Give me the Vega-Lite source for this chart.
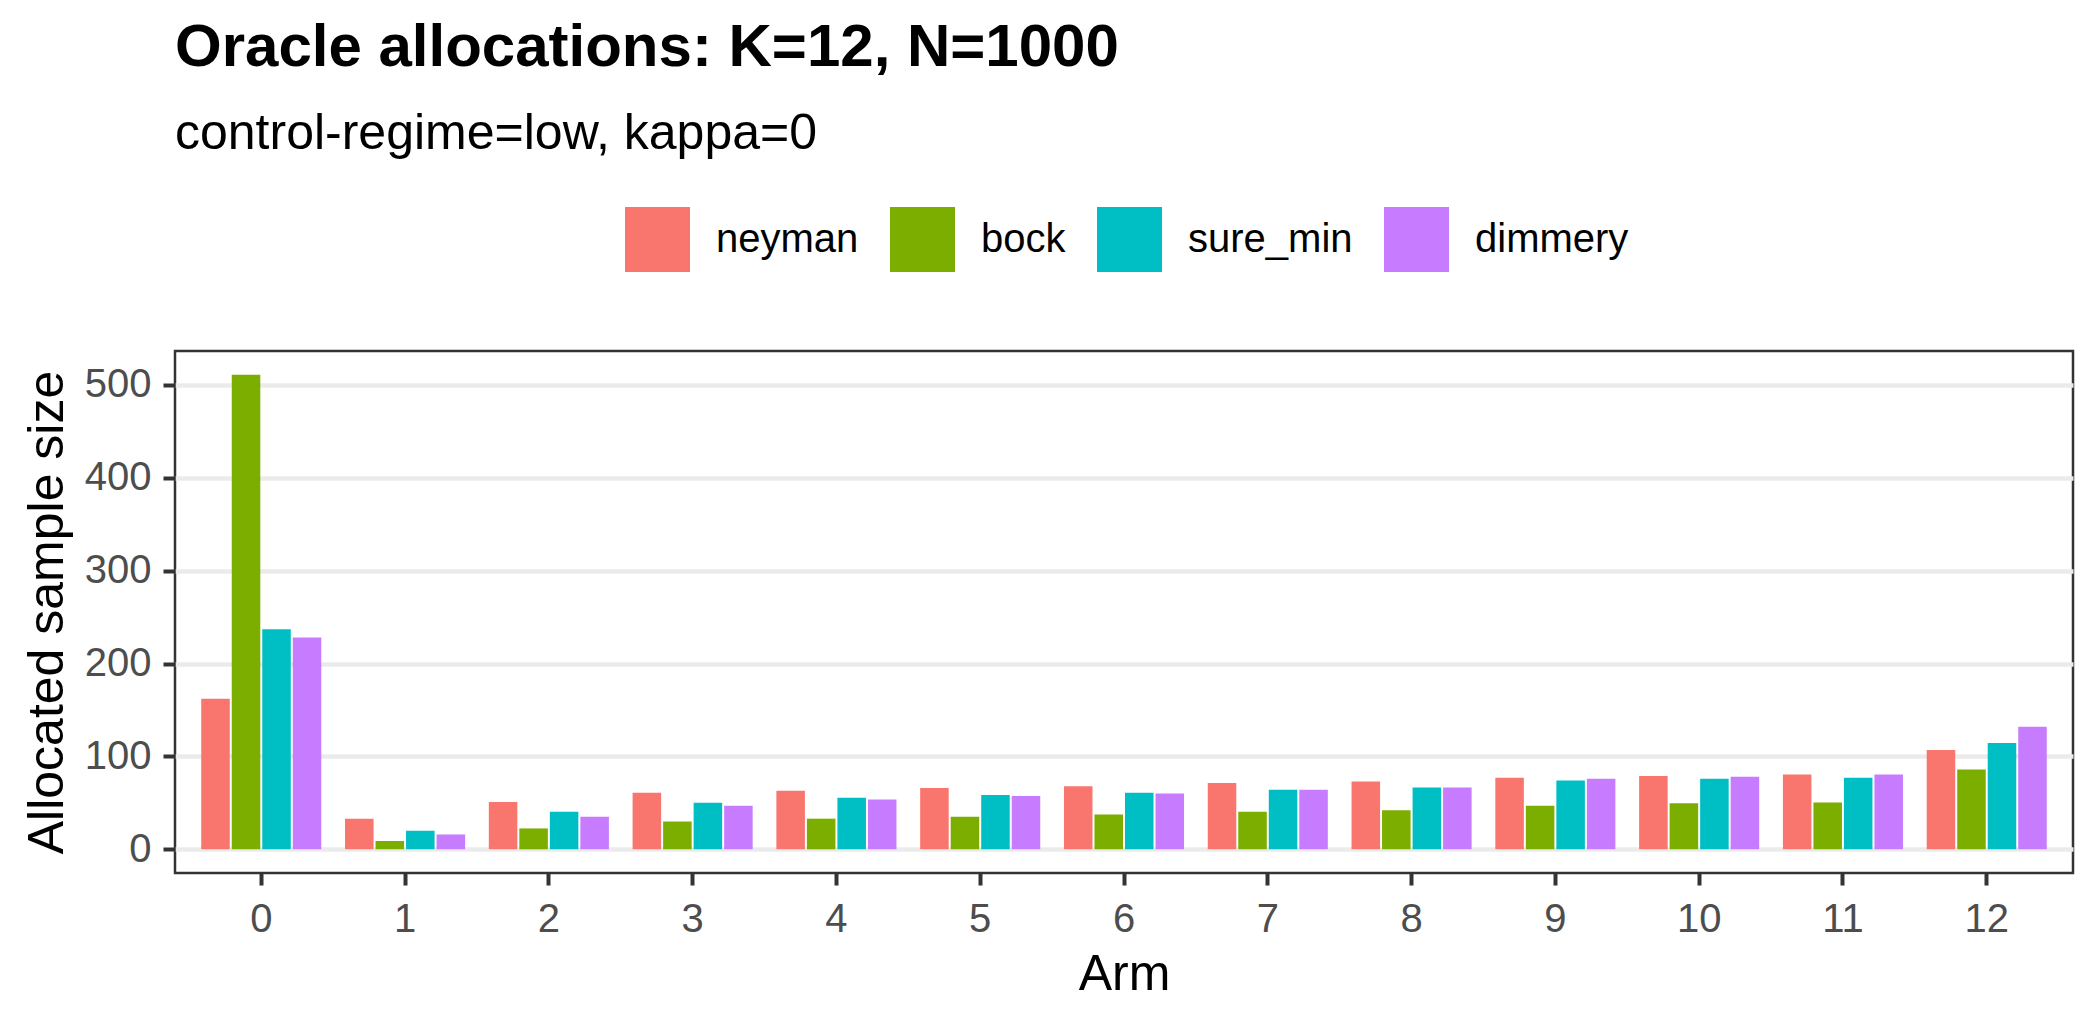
{
  "$schema": "https://vega.github.io/schema/vega-lite/v6.json",
  "autosize": {"type": "none"},
  "width": 1898,
  "height": 522,
  "padding": {"left": 175, "top": 351, "right": 27, "bottom": 147},
  "background": "white",
  "title": {
    "text": "Oracle allocations: K=12, N=1000",
    "subtitle": "control-regime=low, kappa=0",
    "anchor": "start",
    "frame": "group",
    "font": "Liberation Sans",
    "fontSize": 60,
    "fontWeight": "bold",
    "color": "black",
    "subtitleFont": "Liberation Sans",
    "subtitleFontSize": 50,
    "subtitleColor": "black",
    "subtitlePadding": 30,
    "offset": 47
  },
  "data": {
    "values": [
      {"arm": 0, "method": "neyman", "n": 162},
      {"arm": 0, "method": "bock", "n": 511},
      {"arm": 0, "method": "sure_min", "n": 237},
      {"arm": 0, "method": "dimmery", "n": 228},
      {"arm": 1, "method": "neyman", "n": 33},
      {"arm": 1, "method": "bock", "n": 9},
      {"arm": 1, "method": "sure_min", "n": 20},
      {"arm": 1, "method": "dimmery", "n": 16},
      {"arm": 2, "method": "neyman", "n": 51},
      {"arm": 2, "method": "bock", "n": 22.5},
      {"arm": 2, "method": "sure_min", "n": 40.5},
      {"arm": 2, "method": "dimmery", "n": 35},
      {"arm": 3, "method": "neyman", "n": 61},
      {"arm": 3, "method": "bock", "n": 30},
      {"arm": 3, "method": "sure_min", "n": 50},
      {"arm": 3, "method": "dimmery", "n": 47},
      {"arm": 4, "method": "neyman", "n": 63},
      {"arm": 4, "method": "bock", "n": 33},
      {"arm": 4, "method": "sure_min", "n": 55.5},
      {"arm": 4, "method": "dimmery", "n": 53.5},
      {"arm": 5, "method": "neyman", "n": 66},
      {"arm": 5, "method": "bock", "n": 35},
      {"arm": 5, "method": "sure_min", "n": 58.5},
      {"arm": 5, "method": "dimmery", "n": 57.5},
      {"arm": 6, "method": "neyman", "n": 68},
      {"arm": 6, "method": "bock", "n": 37.5},
      {"arm": 6, "method": "sure_min", "n": 61},
      {"arm": 6, "method": "dimmery", "n": 60},
      {"arm": 7, "method": "neyman", "n": 71.5},
      {"arm": 7, "method": "bock", "n": 40.5},
      {"arm": 7, "method": "sure_min", "n": 64},
      {"arm": 7, "method": "dimmery", "n": 64},
      {"arm": 8, "method": "neyman", "n": 73},
      {"arm": 8, "method": "bock", "n": 42},
      {"arm": 8, "method": "sure_min", "n": 66.5},
      {"arm": 8, "method": "dimmery", "n": 66.5},
      {"arm": 9, "method": "neyman", "n": 77},
      {"arm": 9, "method": "bock", "n": 47},
      {"arm": 9, "method": "sure_min", "n": 74},
      {"arm": 9, "method": "dimmery", "n": 76},
      {"arm": 10, "method": "neyman", "n": 79},
      {"arm": 10, "method": "bock", "n": 49.5},
      {"arm": 10, "method": "sure_min", "n": 76},
      {"arm": 10, "method": "dimmery", "n": 78},
      {"arm": 11, "method": "neyman", "n": 80.5},
      {"arm": 11, "method": "bock", "n": 50.5},
      {"arm": 11, "method": "sure_min", "n": 77},
      {"arm": 11, "method": "dimmery", "n": 80.5},
      {"arm": 12, "method": "neyman", "n": 107},
      {"arm": 12, "method": "bock", "n": 86},
      {"arm": 12, "method": "sure_min", "n": 114.5},
      {"arm": 12, "method": "dimmery", "n": 132}
    ]
  },
  "mark": {"type": "bar"},
  "encoding": {
    "x": {
      "field": "arm",
      "type": "ordinal",
      "sort": "ascending",
      "scale": {"paddingInner": 0.165, "paddingOuter": 0.1825},
      "axis": {
        "title": "Arm",
        "labelAngle": 0,
        "grid": false,
        "domain": false,
        "tickSize": 12,
        "tickWidth": 4,
        "tickColor": "#333333",
        "labelPadding": 14,
        "titlePadding": 10
      }
    },
    "xOffset": {
      "field": "method",
      "type": "nominal",
      "sort": ["neyman", "bock", "sure_min", "dimmery"],
      "scale": {"paddingInner": 0.065, "paddingOuter": 0}
    },
    "y": {
      "field": "n",
      "type": "quantitative",
      "scale": {"domain": [-25.5, 536.5], "nice": false, "zero": false},
      "axis": {
        "title": "Allocated sample size",
        "values": [0, 100, 200, 300, 400, 500],
        "format": "d",
        "grid": true,
        "gridColor": "#EBEBEB",
        "gridWidth": 4.5,
        "domain": false,
        "tickSize": 12,
        "tickWidth": 4,
        "tickColor": "#333333",
        "labelPadding": 12,
        "titlePadding": 12
      }
    },
    "color": {
      "field": "method",
      "type": "nominal",
      "sort": ["neyman", "bock", "sure_min", "dimmery"],
      "scale": {
        "domain": ["neyman", "bock", "sure_min", "dimmery"],
        "range": ["#F8766D", "#7CAE00", "#00BFC4", "#C77CFF"]
      },
      "legend": {
        "title": null,
        "orient": "none",
        "direction": "horizontal",
        "legendX": 450,
        "legendY": -144,
        "symbolType": "square",
        "symbolSize": 4225,
        "symbolStrokeWidth": 0,
        "symbolOpacity": 1,
        "labelFontSize": 40,
        "labelFont": "Liberation Sans",
        "labelColor": "black",
        "labelOffset": 26,
        "columnPadding": 31,
        "labelLimit": 500
      }
    }
  },
  "config": {
    "view": {"stroke": "#333333", "strokeWidth": 2.5},
    "axis": {
      "labelFont": "Liberation Sans",
      "labelFontSize": 40,
      "labelColor": "#4D4D4D",
      "titleFont": "Liberation Sans",
      "titleFontSize": 50,
      "titleFontWeight": "normal",
      "titleColor": "black"
    }
  }
}
